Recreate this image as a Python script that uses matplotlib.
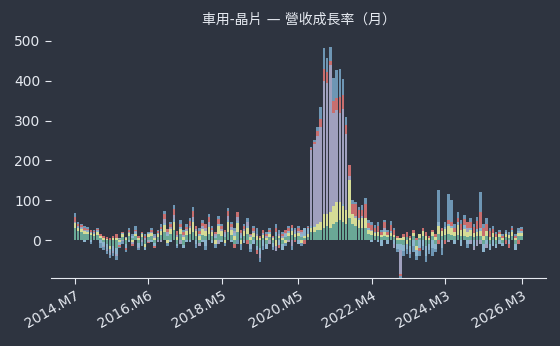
import numpy as np
import matplotlib
matplotlib.use("Agg")
import matplotlib.pyplot as plt

plt.rcParams['font.family'] = ['DejaVu Sans', 'Noto Sans CJK TC']

start_year, start_month, n_months = 2014, 7, 141
months = []
for k in range(n_months):
    y = start_year + (start_month - 1 + k) // 12
    m = (start_month - 1 + k) % 12 + 1
    months.append(f"{y}.M{m}")

tick_labels = ["2014.M7", "2016.M6", "2018.M5", "2020.M5", "2022.M4", "2024.M3", "2026.M3"]

teal = [30, 22, 20, 15, 14, 12, 10, 12, 5, -5, -10, -15,
        -15, -20, 3, 8, -10, 10, 5, 10, -8, 8, -10, 8,
        10, -8, 8, 12, 20, 10, 15, 25, -10, 15, -12, 12,
        15, 20, 10, -8, 12, 10, 15, 10, 6, 15, 10, 8,
        20, 12, -10, 20, 6, 10, 15, -10, 8, -15, -20, 5,
        -10, 8, -8, 10, 6, -10, 8, 10, 12, 8, 10, 8,
        5, 8, 20, 20, 25, 25, 30, 35, 30, 40, 45, 50,
        45, 40, 55, 40, 35, 30, 30, 30, 15, 12, 10, 10,
        8, 10, 8, 10, 8, -10, -10, -12, 8, -15, 10, -15,
        5, 10, -15, -10, 10, -10, 15, 10, 12, 15, 12, 10,
        12, 10, 10, 8, 10, 8, 10, 10, -10, 10, -10, 8,
        -10, 8, -8, 8, 6, 10, -10, 10, 10]
yellow = [12, 8, 8, 8, 6, 6, 5, 8, 4, 4, 3, -8,
          5, 6, -5, 6, 4, 8, -6, 6, 5, 6, -8, 6,
          8, 6, 7, 10, 18, -8, 12, 20, 8, 12, 8, 10,
          15, 25, 12, 10, 15, 12, 18, 10, -10, 20, 12, -8,
          25, 12, 10, 22, -10, 12, 15, 8, 10, 10, 5, 8,
          5, 8, 4, -15, 5, 5, -8, 8, 10, 6, 8, -8,
          5, 6, 10, 12, 15, 20, 35, 30, 40, 45, 50, 45,
          40, 35, 95, 25, 20, 20, 25, 25, 10, 10, 8, 10,
          5, 10, 5, 8, 5, 5, 5, 8, -10, 5, 8, -10,
          10, 12, 10, 5, 10, 8, 20, 12, 15, 20, 18, 10,
          25, 15, 18, 12, 15, 10, 10, 12, 10, 12, 8, 10,
          8, 6, 5, 8, 6, 10, 5, 8, 8]
lightblue = [0, 3, 2, -5, 2, -4, 3, 2, -8, -10, -12, -10,
             -12, -15, -8, 3, -10, -5, 5, 4, -10, 3, -6, 3,
             -5, -6, 3, 5, 5, 5, -5, 8, -5, 5, -8, -5,
             -5, 5, -10, 5, -5, -15, 5, -8, 5, 5, -5, 6,
             5, -5, 8, 6, 7, -8, 5, -12, -10, -10, -15, -15,
             -12, 5, -10, 10, -12, -15, 6, 5, 8, 6, -10, 8,
             20, 15, 5, 4, 0, 0, 0, 0, 0, 0, 0, 0,
             5, 0, 0, 0, 0, 5, 0, 0, 5, -5, 3, -5,
             -15, 5, -10, 5, -10, -12, -15, -15, -12, -15, -15, -15,
             -20, -15, -25, -15, -20, -12, 10, -20, 5, 5, 5, -10,
             8, -15, 10, -10, 5, -15, 8, 8, -20, -10, -15, -15,
             -10, -10, -7, 4, -10, 5, -15, 5, 5]
lavender = [3, 2, 2, 2, 2, 1, 2, 2, 1, -3, -5, -4,
            -5, -5, 2, -3, 3, 2, -4, 2, -3, -5, 4, -4,
            3, 3, -5, -5, 10, 5, 5, 10, 5, -10, 5, 5,
            5, 8, 5, -7, 8, 8, 7, 5, 4, -10, 6, 6,
            10, 8, 5, 10, 4, 6, 10, 4, 5, 5, -10, 5,
            4, -10, 3, -12, 5, 5, 4, -5, -15, 4, 5, 4,
            0, 0, 190, 205, 220, 240, 335, 330, 370, 235, 232, 225,
            240, 190, 10, 0, 5, 0, 5, 0, 0, 3, 0, 0,
            0, 5, 0, 0, -10, 0, -60, 0, 0, -5, 0, 0,
            0, 0, 0, 0, 0, 0, 0, 0, 0, -5, 0, 0,
            0, 0, 0, 10, -10, -10, -15, -10, 0, -10, 0, 0,
            0, 0, 0, 0, 0, 0, 0, 0, 0]
pink = [13, 6, 5, 6, 4, 5, 3, 4, 5, 6, 5, 5,
        5, 9, -4, 3, -6, 5, -5, 2, 5, 3, 6, -3,
        5, -6, 4, 6, 12, 8, 8, 15, 10, 8, 6, 6,
        12, 15, 8, 8, 8, 10, 12, 5, 6, 12, 6, 5,
        12, 8, -10, 12, 8, 7, -10, 4, 6, -10, 5, 7,
        6, 5, 4, 10, -8, 5, 6, 6, 8, -5, 6, 5,
        -10, 3, 6, 5, 14, 20, 30, 27, 10, 30, 30, 40,
        35, 24, 28, 25, 30, 20, 15, 35, 12, 12, 10, 15,
        8, 15, 8, 15, 12, 5, -5, 7, 12, 5, 7, 5,
        -8, 8, 10, 5, 5, 7, -10, 8, -10, 10, 10, 10,
        10, 15, 15, 15, 15, 15, 20, 40, 20, 18, 15, 10,
        7, 6, 5, -10, -10, 5, 5, -10, 5]
blue = [10, 4, 3, 4, 4, -6, 2, 2, -12, -7, -8, -8,
        -8, -10, -3, -7, -4, 5, 5, 10, -4, -10, 5, 3,
        4, 6, 3, 7, 8, -7, 5, 10, -5, 10, 6, 7,
        8, 10, -10, 7, 7, -10, 8, 5, -10, 8, 6, -7,
        8, 5, 7, -10, -15, 5, 10, -8, 6, 15, -10, -10,
        5, 4, -7, 10, 9, 5, -7, 6, -10, 6, 6, -7,
        0, 3, 3, 5, 10, 29, 52, 35, 35, 57, 70, 70,
        40, 20, 0, 10, 5, 8, 13, 15, 8, 8, 7, 10,
        4, 5, 4, 10, 5, -8, -5, -13, -13, -10, -15, -10,
        -12, -10, -15, -10, -20, -8, 80, -18, 13, 65, 55, 10,
        15, 10, 10, -10, 10, 7, 10, 50, 10, 15, 7, 7,
        5, 5, 5, 5, 8, 5, 5, 7, 5]

series = [teal, yellow, lightblue, lavender, pink, blue]
colors = ["#6aa896", "#d6dc96", "#8cb4cd", "#a0a0be", "#c86e6e", "#6e96b4"]

BG = "#2e3440"
FG = "#e5e9f0"

fig = plt.figure(figsize=(5.6, 3.46), dpi=100, facecolor=BG)
ax = fig.add_axes([0.091, 0.197, 0.884, 0.702])
ax.set_facecolor(BG)

x = np.arange(len(months))
pos_base = np.zeros(len(months))
neg_base = np.zeros(len(months))
for vals, c in zip(series, colors):
    v = np.asarray(vals, dtype=float)
    pos = np.where(v > 0, v, 0)
    neg = np.where(v < 0, v, 0)
    ax.bar(x, pos, width=0.8, bottom=pos_base, color=c, linewidth=0)
    ax.bar(x, neg, width=0.8, bottom=neg_base, color=c, linewidth=0)
    pos_base += pos
    neg_base += neg

ax.set_xlim(-7.5, 147.6)
ax.set_ylim(-95, 515)
ax.set_yticks([0, 100, 200, 300, 400, 500])
tick_pos = [months.index(t) for t in tick_labels]
ax.set_xticks(tick_pos)
ax.set_xticklabels(tick_labels, rotation=30, ha="right", rotation_mode="anchor")

for s in ["left", "right", "top"]:
    ax.spines[s].set_visible(False)
ax.spines["bottom"].set_color(FG)
ax.tick_params(axis="both", colors=FG, labelsize=10, length=4)

ax.set_title("車用-晶片 — 營收成長率（月）", color=FG, fontsize=10, pad=8)

fig.savefig("out.png", dpi=100, facecolor=BG)
